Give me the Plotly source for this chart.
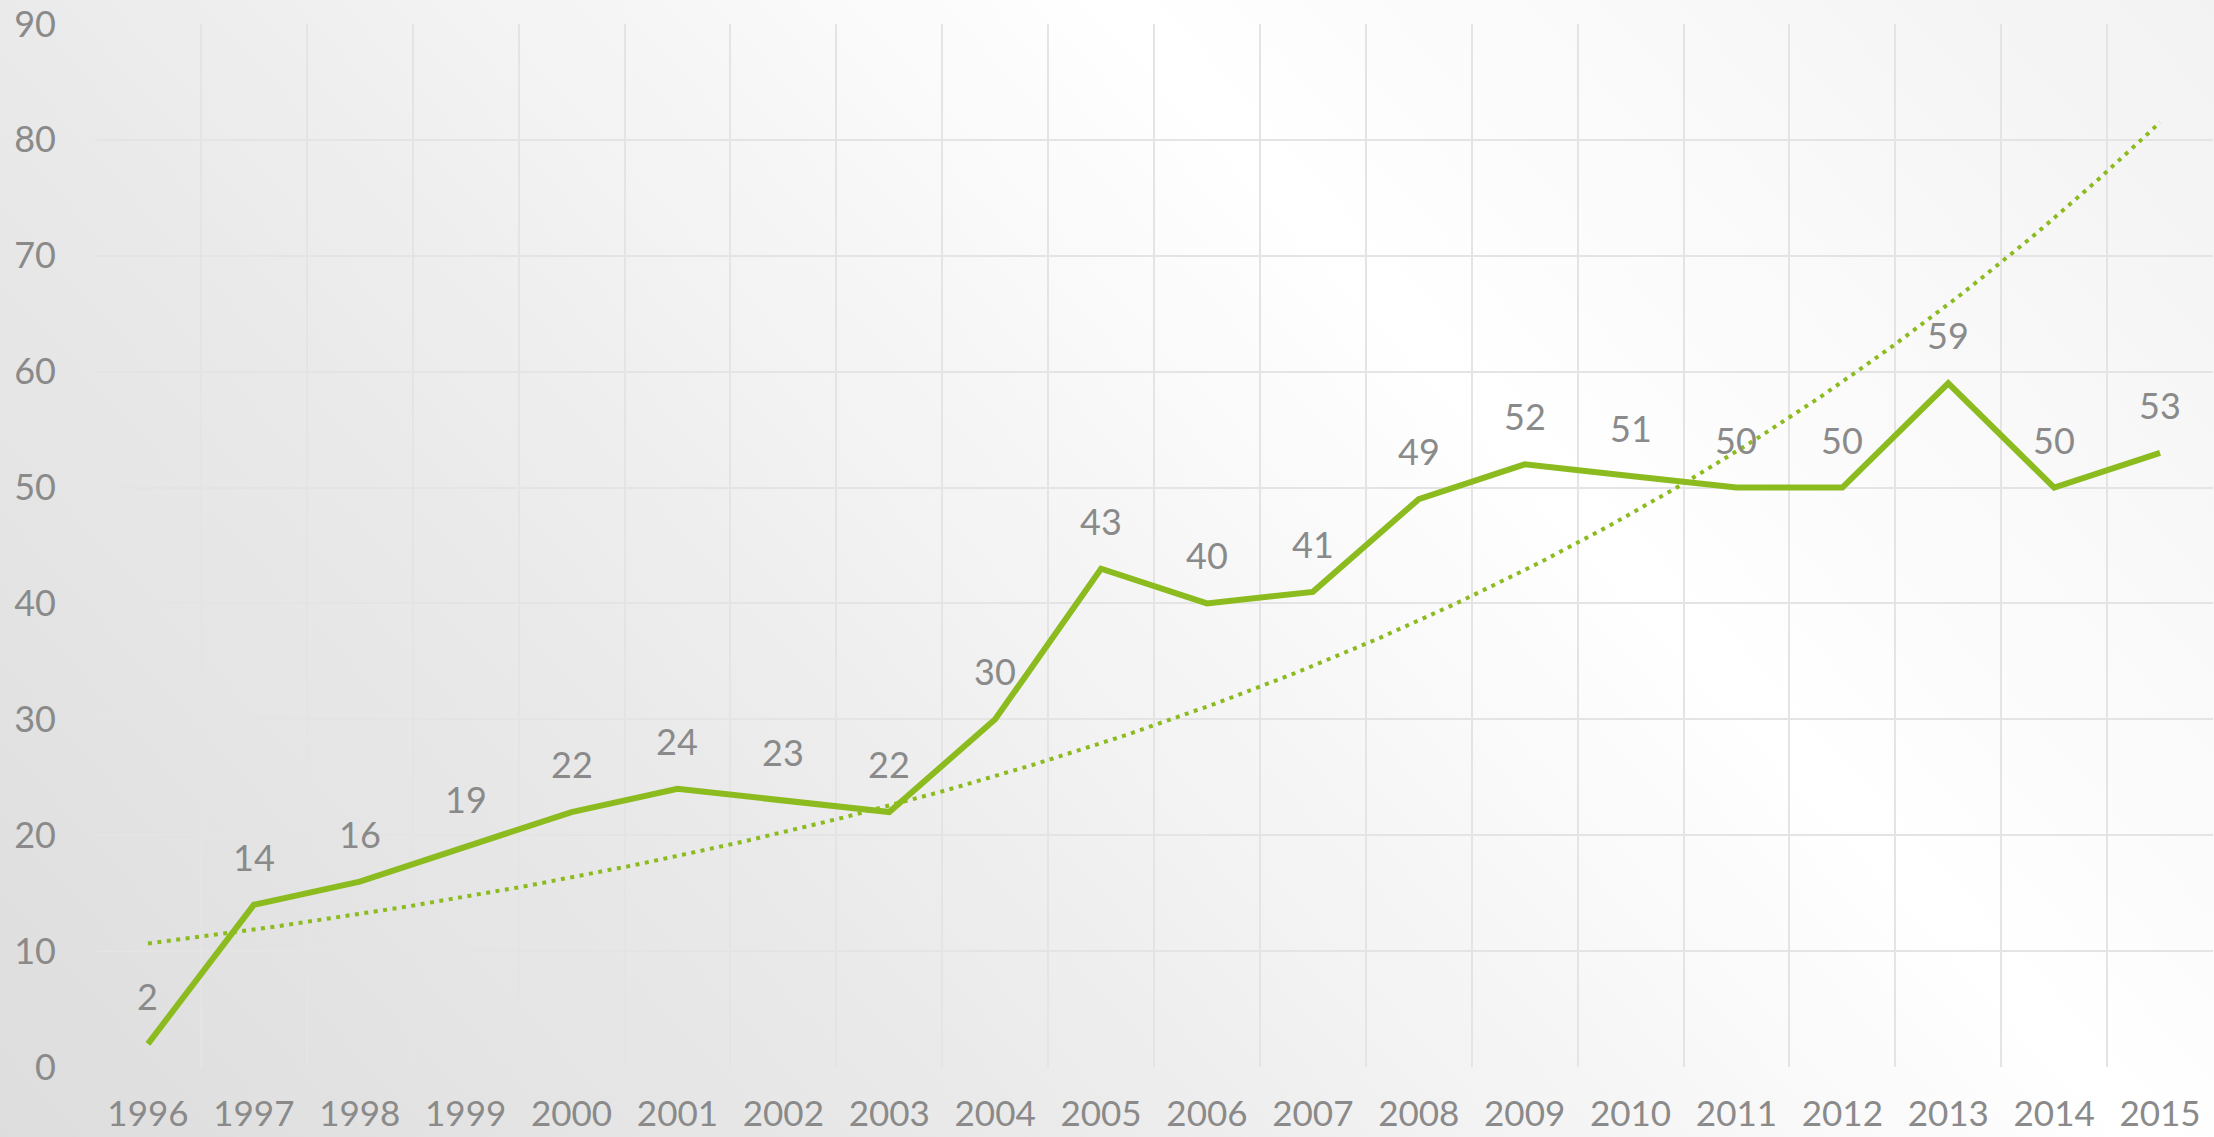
import base64
import numpy as np
import plotly.graph_objects as go

years = list(range(1996, 2016))
values = [2, 14, 16, 19, 22, 24, 23, 22, 30, 43, 40, 41, 49, 52, 51, 50, 50, 59, 50, 53]
year_labels = [str(y) for y in years]
y_ticks = list(range(0, 100, 10))

W, H = 2214, 1137
ML, MR, MT, MB = 95, 1, 24, 70
PW, PH = W - ML - MR, H - MT - MB

GREEN = "#8cbb1f"
TXT = "#8a8a8a"
GRID = "#e4e4e4"
FONT = "Lato"
FW = 400

# exponential trendline (least squares on log values, as a spreadsheet trendline does)
t = np.array(years, dtype=float) - years[0]
b, a = np.polyfit(t, np.log(values), 1)
tt = np.linspace(0, t[-1], 200)
trend_x = tt + years[0]
trend_y = np.exp(a + b * tt)

svg = f'''<svg xmlns="http://www.w3.org/2000/svg" width="{W}" height="{H}" viewBox="0 0 {W} {H}" preserveAspectRatio="none">
<defs><linearGradient id="g" gradientUnits="userSpaceOnUse" x1="0" y1="1137" x2="1777" y2="-477">
<stop offset="0" stop-color="#dddddd"/>
<stop offset="0.318" stop-color="#eaeaea"/>
<stop offset="0.66" stop-color="#ffffff"/>
<stop offset="1" stop-color="#f2f2f2"/>
</linearGradient></defs>
<rect x="0" y="0" width="{W}" height="{H}" fill="url(#g)"/>
</svg>'''
bg_src = "data:image/svg+xml;base64," + base64.b64encode(svg.encode()).decode()

fig = go.Figure()
fig.add_trace(go.Scatter(
    x=trend_x, y=trend_y, mode="lines",
    line=dict(color=GREEN, width=4, dash="4px,5.5px"),
    hoverinfo="skip", showlegend=False,
))
fig.add_trace(go.Scatter(
    x=years, y=values, mode="lines",
    line=dict(color=GREEN, width=6),
    showlegend=False,
))

for x, v in zip(years, values):
    fig.add_annotation(x=x, y=v, text=str(v), showarrow=False, yshift=48,
                       font=dict(family=FONT, size=36, color=TXT, weight=FW))

fig.add_layout_image(dict(
    source=bg_src, xref="paper", yref="paper",
    x=-ML / PW, y=1 + MT / PH, sizex=W / PW, sizey=H / PH,
    xanchor="left", yanchor="top", sizing="stretch", layer="below",
))

fig.update_layout(
    width=W, height=H,
    margin=dict(l=ML, r=MR, t=MT, b=MB, pad=0, autoexpand=False),
    paper_bgcolor="#eeeeee",
    plot_bgcolor="rgba(0,0,0,0)",
    font=dict(family=FONT, size=36, color=TXT, weight=FW),
)
fig.update_xaxes(
    range=[years[0] - 0.5, years[-1] + 0.5],
    tickmode="array", tickvals=years, ticktext=year_labels,
    showgrid=False, zeroline=False, showline=False, ticks="",
    ticklabelstandoff=23, automargin=False,
    tickfont=dict(family=FONT, size=35, color=TXT, weight=FW),
    minor=dict(tickmode="linear", tick0=years[0] - 0.5, dtick=1,
               showgrid=True, gridcolor=GRID, gridwidth=2, ticks=""),
)
fig.update_yaxes(
    range=[0, 90], tickmode="array", tickvals=y_ticks,
    showgrid=True, gridcolor=GRID, gridwidth=2,
    zeroline=False, showline=False, ticks="",
    ticklabelstandoff=38, automargin=False,
    tickfont=dict(family=FONT, size=36, color=TXT, weight=FW),
)

fig.write_html(
    "out.html",
    config={"displayModeBar": False},
    post_script="document.body.style.margin='0';document.body.style.overflow='hidden';",
)
